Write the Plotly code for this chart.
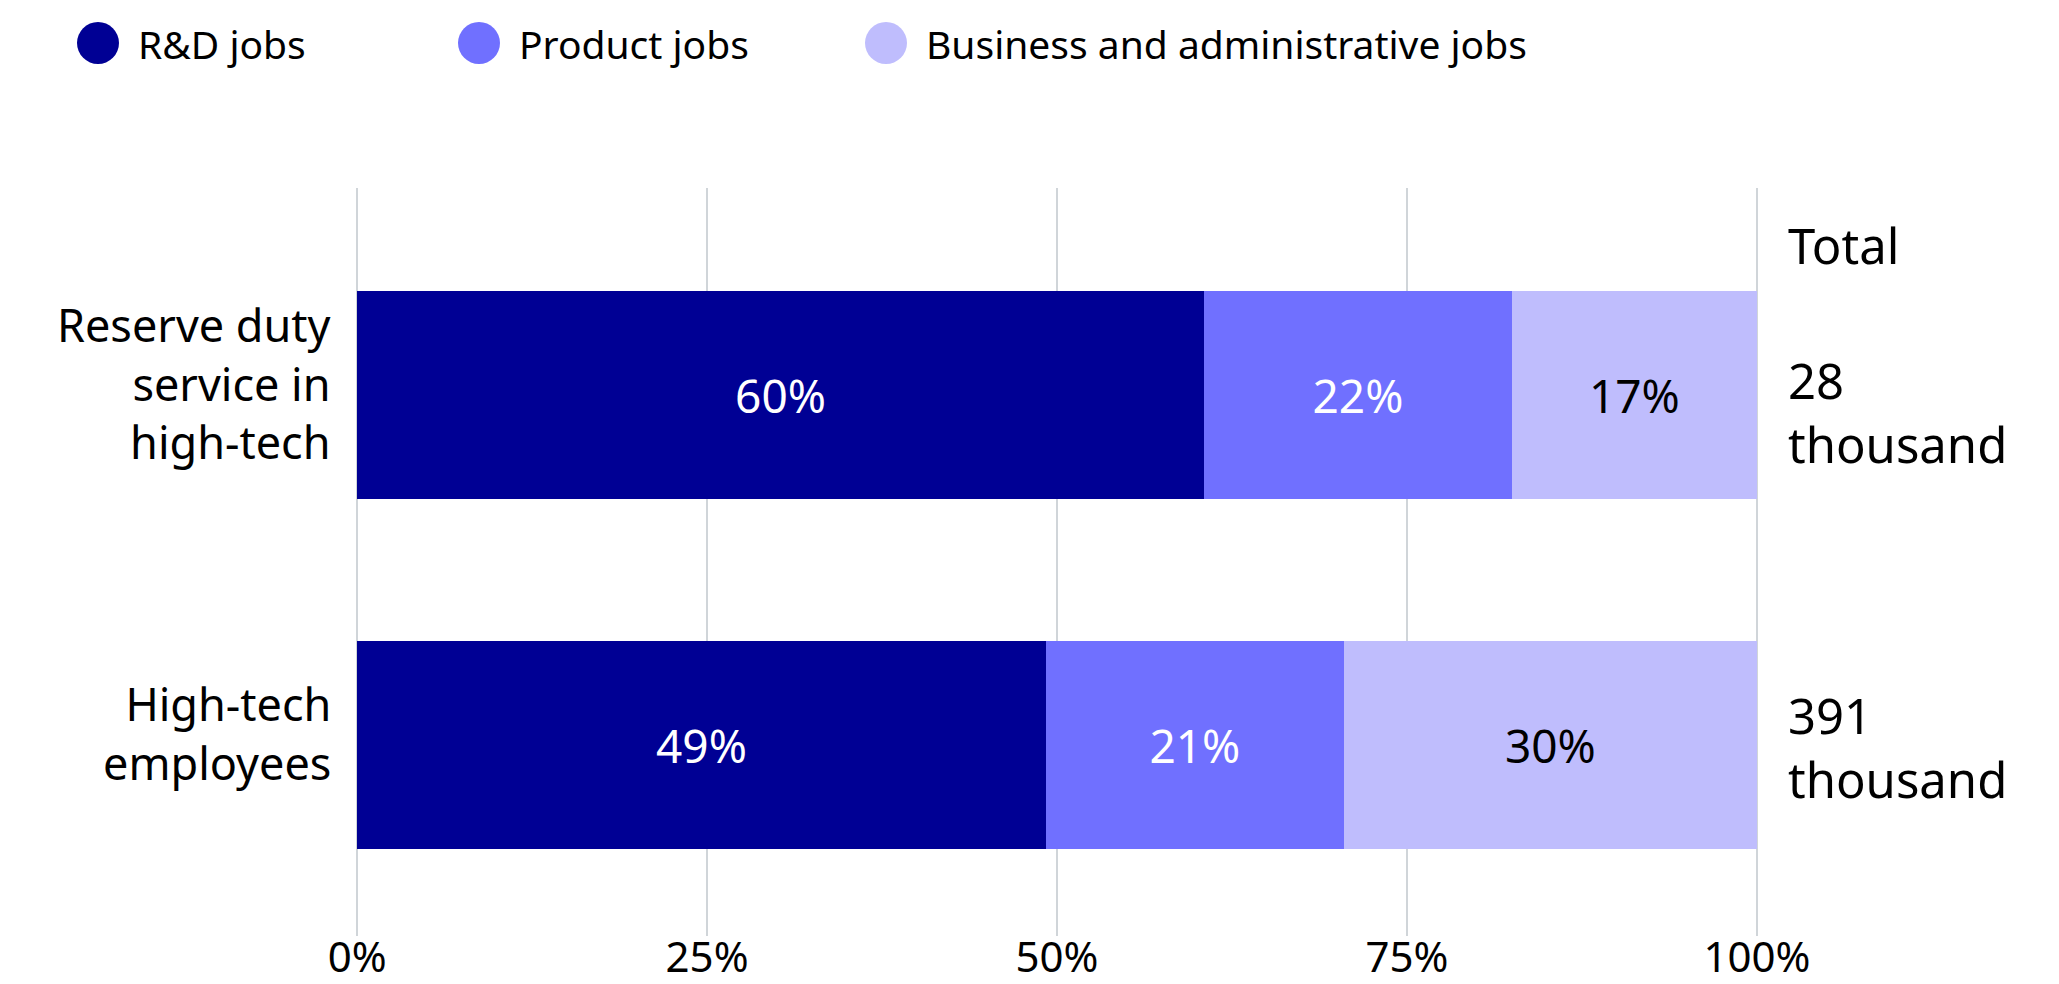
import plotly.graph_objects as go

# ---------------- data ----------------
categories = ["Reserve duty<br>service in<br>high-tech", "High-tech<br>employees"]
series_names = ["R&D jobs", "Product jobs", "Business and administrative jobs"]
rd_values = [60.5, 49.2]
product_values = [22.0, 21.3]
business_values = [17.5, 29.5]
rd_labels = ["60%", "49%"]
product_labels = ["22%", "21%"]
business_labels = ["17%", "30%"]
totals = ["28", "391"]
totals_unit = "thousand"
totals_header = "Total"
x_tickvals = [0, 25, 50, 75, 100]
x_ticktext = ["0%", "25%", "50%", "75%", "100%"]

# ---------------- style ----------------
OFF = 8  # default page body margin
W, H = 2059 - OFF, 984 - OFF
ML, MT = 356 - OFF, 188 - OFF
PLOT_R, PLOT_B = 1758 - OFF, 936 - OFF
MR, MB = W - PLOT_R, H - PLOT_B
PW, PH = PLOT_R - ML, PLOT_B - MT
FONT = "Noto Sans"
colors = ["#000094", "#7070FF", "#BFBDFD"]
text_colors = ["#FFFFFF", "#FFFFFF", "#000000"]


def px_x(px):  # page pixel -> paper x
    return (px - OFF - ML) / PW


def px_y(py):  # page pixel -> paper y
    return (PLOT_B - (py - OFF)) / PH


fig = go.Figure()
values = [rd_values, product_values, business_values]
labels = [rd_labels, product_labels, business_labels]
for name, vals, labs, col, tcol in zip(series_names, values, labels, colors, text_colors):
    fig.add_trace(go.Bar(
        y=categories, x=vals, orientation="h", name=name,
        marker=dict(color=col, line=dict(width=0)),
        text=labs, textposition="inside", insidetextanchor="middle",
        textangle=0, textfont=dict(family=FONT, size=46, color=tcol),
        width=0.594, hoverinfo="skip", showlegend=False,
    ))

annotations = []
shapes = []
n_cat = len(categories)

# category labels
for i, cat in enumerate(categories):
    annotations.append(dict(
        xref="paper", yref="y", x=px_x(333), y=n_cat - 1 - i,
        xanchor="right", yanchor="middle", align="right", showarrow=False,
        yshift=12, text=cat,
        font=dict(family=FONT, size=45, color="#000000"),
    ))

# totals column
annotations.append(dict(
    xref="paper", yref="paper", x=px_x(1786), y=px_y(245),
    xanchor="left", yanchor="middle", showarrow=False,
    text=totals_header, font=dict(family=FONT, size=49, color="#000000"),
))
total_shifts = [-17, -2]
for i, t in enumerate(totals):
    annotations.append(dict(
        xref="paper", yref="y", x=px_x(1786), y=n_cat - 1 - i,
        xanchor="left", yanchor="middle", align="left", showarrow=False,
        yshift=total_shifts[i], text=t + "<br>" + totals_unit,
        font=dict(family=FONT, size=49, color="#000000"),
    ))

# custom legend
legend_centers = [98, 479, 886]
for name, col, cx in zip(series_names, colors, legend_centers):
    shapes.append(dict(
        type="circle", xref="paper", yref="paper",
        xsizemode="pixel", ysizemode="pixel",
        xanchor=px_x(cx), yanchor=px_y(43),
        x0=-21, x1=21, y0=-21, y1=21,
        fillcolor=col, line=dict(width=0),
    ))
    annotations.append(dict(
        xref="paper", yref="paper", x=px_x(cx + 38), y=px_y(43),
        xanchor="left", yanchor="middle", showarrow=False,
        text=name, font=dict(family=FONT, size=39, color="#000000"),
    ))

fig.update_layout(
    width=W, height=H,
    margin=dict(l=ML, r=MR, t=MT, b=MB, pad=0, autoexpand=False),
    barmode="stack",
    plot_bgcolor="white", paper_bgcolor="white",
    font=dict(family=FONT, color="#000000"),
    showlegend=False,
    annotations=annotations,
    shapes=shapes,
)
fig.update_xaxes(
    automargin=False,
    range=[-0.08, 100.08], tickvals=x_tickvals, ticktext=x_ticktext,
    showgrid=True, gridcolor="#D0D5D9", gridwidth=1.5,
    zeroline=False, showline=False, ticks="", ticklabelstandoff=-7,
    tickfont=dict(family=FONT, size=42, color="#000000"),
    fixedrange=True,
)
fig.update_yaxes(
    automargin=False,
    type="category", categoryorder="array", categoryarray=categories[::-1],
    range=[-(PLOT_B - (745 - OFF)) / 350, 1 + ((395 - OFF) - MT) / 350],
    showticklabels=False, showgrid=False,
    zeroline=False, showline=False, ticks="", fixedrange=True,
)

fig.write_html("out.html", config=dict(displayModeBar=False))
